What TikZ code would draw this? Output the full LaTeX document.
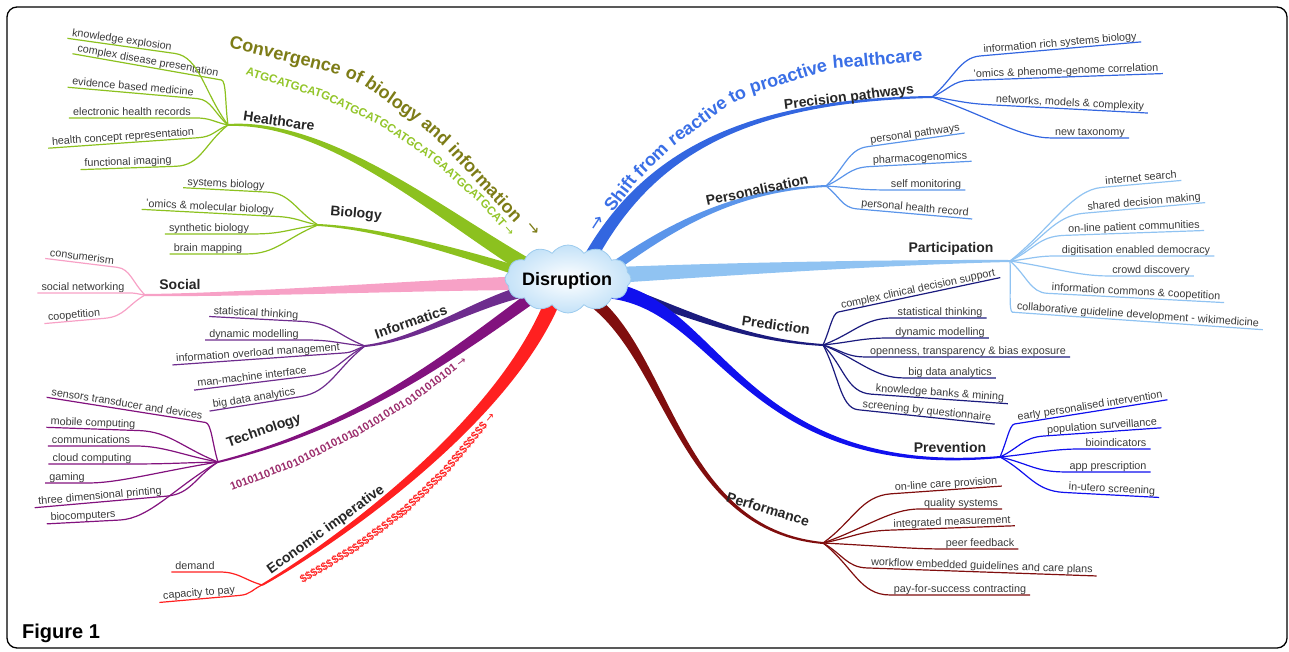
\documentclass[tikz,border=0pt]{standalone}
\usepackage{fontspec}
\setmainfont{Liberation Sans}
\newfontfamily\arrowfont{DejaVu Sans}
\usetikzlibrary{calc,shapes.symbols}

\definecolor{healthgreen}{HTML}{8CC11F}
\definecolor{atgcgreen}{HTML}{93C52A}
\definecolor{convolive}{HTML}{7D7C17}
\definecolor{socialpink}{HTML}{F7A1C6}
\definecolor{infopurple}{HTML}{6E2C8E}
\definecolor{techpurple}{HTML}{82127E}
\definecolor{binarymaroon}{HTML}{9B2C6B}
\definecolor{econred}{HTML}{FF2020}
\definecolor{precblue}{HTML}{3366E0}
\definecolor{shiftblue}{HTML}{3A6FE6}
\definecolor{persblue}{HTML}{5B95EA}
\definecolor{partblue}{HTML}{90C3F2}
\definecolor{prednavy}{HTML}{1B1B7E}
\definecolor{prevblue}{HTML}{1010EE}
\definecolor{perfred}{HTML}{800E0E}
\definecolor{cloudfill}{HTML}{C4E2F8}
\definecolor{cloudline}{HTML}{9CCBEE}
\definecolor{leafgrey}{HTML}{3A3A3A}

% tapered main branch: colour, start, control 1, control 2, hub, half width
\newcommand\limb[6]{\fill[#1] ($(#2)!#6!90:(#3)$) .. controls ($(#3)!#6*.75!-90:(#2)$) and ($(#4)!#6*.3!90:(#5)$) .. ($(#5)!1pt!-90:(#4)$)
  -- ($(#5)!1pt!90:(#4)$) .. controls ($(#4)!#6*.3!-90:(#5)$) and ($(#3)!#6*.75!90:(#2)$) .. ($(#2)!#6!-90:(#3)$) -- cycle;}
% leaf lines: colour, hub, leaf node, pull
\newcommand\twigL[4]{\draw[twig,#1] (#2) .. controls ($(#2)!.45!(#3.south east)$) and ($(#3.south east)!-#4!(#3.south west)$) .. (#3.south east) -- (#3.south west);}
\newcommand\twigR[4]{\draw[twig,#1] (#2) .. controls ($(#2)!.45!(#3.south west)$) and ($(#3.south west)!-#4!(#3.south east)$) .. (#3.south west) -- (#3.south east);}

\begin{document}
\begin{tikzpicture}[x=1pt, y=-1pt,
  leaf/.style={font=\fontsize{10.8}{12}\selectfont, text=leafgrey, inner xsep=4pt, inner ysep=1pt, text height=8pt, text depth=1.5pt},
  lbl/.style={font=\bfseries\fontsize{14}{16}\selectfont, text=black!85},
  twig/.style={line width=1.2pt},
  conv/.style={font=\bfseries\fontsize{18}{20}\selectfont, text=convolive, inner sep=0pt, anchor=base},
  proact/.style={font=\bfseries\fontsize{18}{20}\selectfont, text=shiftblue, inner sep=0pt, anchor=base},
  atgc/.style={font=\bfseries\fontsize{11.6}{13}\selectfont, text=atgcgreen, inner sep=0pt, anchor=base},
  bits/.style={font=\bfseries\fontsize{11}{13}\selectfont, text=binarymaroon, inner sep=0pt, anchor=base},
  dollars/.style={font=\bfseries\fontsize{11}{13}\selectfont, text=econred, inner sep=0pt, anchor=base}]
\useasboundingbox (0,0) rectangle (1289,651);
\draw[line width=1.3pt, rounded corners=10pt] (7,7) rectangle (1287,648);

\coordinate (hc0) at (530,268);  \coordinate (hc) at (228,125);
\coordinate (bi0) at (530,275);  \coordinate (bi) at (318,225);
\coordinate (so0) at (530,283);  \coordinate (so) at (145,295);
\coordinate (in0) at (530,290);  \coordinate (in) at (365,346);
\coordinate (te0) at (528,300);  \coordinate (te) at (218,462);
\coordinate (ec0) at (553,300);  \coordinate (ec) at (262,585);
\coordinate (pp0) at (590,258);  \coordinate (pp) at (932,97);
\coordinate (pe0) at (612,268);  \coordinate (pe) at (826,186);
\coordinate (pa0) at (615,275);  \coordinate (pa) at (1010,261);
\coordinate (pr0) at (615,288);  \coordinate (pr) at (823,345);
\coordinate (pv0) at (605,290);  \coordinate (pv) at (1000,457);
\coordinate (pf0) at (592,300);  \coordinate (pf) at (823,543);

\limb{healthgreen}{hc0}{440,215}{330,120}{hc}{8pt}
\limb{healthgreen}{bi0}{470,255}{380,228}{bi}{5pt}
\limb{socialpink}{so0}{420,285}{250,295}{so}{7pt}
\limb{infopurple}{in0}{480,300}{420,340}{in}{6pt}
\limb{techpurple}{te0}{444,361}{354,428}{te}{6pt}
\limb{econred}{ec0}{500,430}{320,552}{ec}{7.5pt}
\limb{precblue}{pp0}{650,150}{750,100}{pp}{6.5pt}
\limb{persblue}{pe0}{680,220}{740,190}{pe}{5pt}
\limb{partblue}{pa0}{750,268}{900,262}{pa}{8pt}
\limb{prednavy}{pr0}{680,310}{740,340}{pr}{5pt}
\limb{prevblue}{pv0}{720,300}{740,480}{pv}{8pt}
\limb{perfred}{pf0}{670,360}{680,530}{pf}{6pt}

\node[cloud, cloud puffs=12, cloud puff arc=110, cloud ignores aspect, minimum width=126pt, minimum height=68pt,
      draw=cloudline, line width=.8pt, inner color=white, outer color=cloudfill] (cloud) at (568,279) {};
\node[font=\bfseries\fontsize{18}{20}\selectfont] (dis) at (567,281) {Disruption};

\node[conv, rotate=-14] (cv1) at (284,61)  {Convergence};
\node[conv, rotate=-25] (cv2) at (352,80)  {of};
\node[conv, rotate=-35] (cv3) at (390,104) {biology};
\node[conv, rotate=-42] (cv4) at (432,136) {and};
\node[conv, rotate=-47] (cv5) at (481,187) {information};
\node[conv, rotate=-50, anchor=center, font=\arrowfont\fontsize{16}{18}\selectfont] (cv6) at (533,229) {→};

\node[atgc, rotate=-17] (dna1) at (283,86.3)    {ATGCATGCAT};
\node[atgc, rotate=-25] (dna2) at (349.2,111.1) {GCATGCAT};
\node[atgc, rotate=-34] (dna3) at (405,142.7)   {GCATGCAT};
\node[atgc, rotate=-42] (dna4) at (455.6,182.2) {GAATGCAT};
\node[atgc, rotate=-48] (dna5) at (494.7,220.5) {GCAT {\arrowfont\mdseries →}};

\node[proact, rotate=57] (sh1) at (602,226) {\arrowfont\mdseries →};
\node[proact, rotate=52] (sh2) at (625,197) {Shift};
\node[proact, rotate=45] (sh3) at (655,164) {from};
\node[proact, rotate=36] (sh4) at (701,126) {reactive};
\node[proact, rotate=28] (sh5) at (740,100) {to};
\node[proact, rotate=17] (sh6) at (790,82)  {proactive};
\node[proact, rotate=5]  (sh7) at (878,65)  {healthcare};

\node[bits, rotate=21] (bit1) at (263,479) {10101101010};
\node[bits, rotate=27] (bit2) at (325,452) {10101010101};
\node[bits, rotate=32] (bit3) at (381,422) {0101010101};
\node[bits, rotate=37] (bit4) at (438,384) {0101010101 {\arrowfont\mdseries →}};

\node[dollars, rotate=30] (usd1) at (329,568) {\$\$\$\$\$\$\$\$\$\$};
\node[dollars, rotate=37] (usd2) at (380,534) {\$\$\$\$\$\$\$\$\$\$};
\node[dollars, rotate=44] (usd3) at (426,495) {\$\$\$\$\$\$\$\$\$\$};
\node[dollars, rotate=50] (usd4) at (472,445) {\$\$\$\$\$\$\$\$\$\$ {\arrowfont\mdseries →}};

\node[lbl, rotate=-8]  (lhc) at (279,121) {Healthcare};
\node[lbl, rotate=-5]  (lbi) at (356,214) {Biology};
\node[lbl]             (lso) at (180,284) {Social};
\node[lbl, rotate=19]  (lin) at (411,322) {Informatics};
\node[lbl, rotate=19]  (lte) at (264,431) {Technology};
\node[lbl, rotate=36]  (lec) at (326,530) {Economic imperative};
\node[lbl, rotate=7]   (lpp) at (849,98)  {Precision pathways};
\node[lbl, rotate=12]  (lpe) at (757,190) {Personalisation};
\node[lbl]             (lpa) at (951,249) {Participation};
\node[lbl, rotate=-8]  (lpr) at (776,325) {Prediction};
\node[lbl]             (lpv) at (950,447) {Prevention};
\node[lbl, rotate=-17] (lpf) at (768,509) {Performance};

\node[leaf, rotate=-8]  (h1) at (122,40)  {knowledge explosion};
\node[leaf, rotate=-10] (h2) at (148,61)  {complex disease presentation};
\node[leaf, rotate=-5]  (h3) at (133,87)  {evidence based medicine};
\node[leaf]             (h4) at (132,112) {electronic health records};
\node[leaf, rotate=4]   (h5) at (123,137) {health concept representation};
\node[leaf, rotate=2]   (h6) at (128,162) {functional imaging};
\twigL{healthgreen}{hc}{h1}{25pt}
\twigL{healthgreen}{hc}{h2}{5pt}
\twigL{healthgreen}{hc}{h3}{14pt}
\twigL{healthgreen}{hc}{h4}{16pt}
\twigL{healthgreen}{hc}{h5}{14pt}
\twigL{healthgreen}{hc}{h6}{25pt}

\node[leaf, rotate=-3]  (b1) at (226,184) {systems biology};
\node[leaf, rotate=-3]  (b2) at (210,207) {'omics \& molecular biology};
\node[leaf]             (b3) at (209,228) {synthetic biology};
\node[leaf]             (b4) at (208,248) {brain mapping};
\twigL{healthgreen}{bi}{b1}{22pt}
\twigL{healthgreen}{bi}{b2}{18pt}
\twigL{healthgreen}{bi}{b3}{30pt}
\twigL{healthgreen}{bi}{b4}{30pt}

\node[leaf, rotate=-7]  (s1) at (82,257)  {consumerism};
\node[leaf]             (s2) at (83,287)  {social networking};
\node[leaf, rotate=5]   (s3) at (74,315)  {coopetition};
\twigL{socialpink}{so}{s1}{13pt}
\twigL{socialpink}{so}{s2}{8pt}
\twigL{socialpink}{so}{s3}{20pt}

\node[leaf, rotate=-3]  (i1) at (256,313) {statistical thinking};
\node[leaf]             (i2) at (254,334) {dynamic modelling};
\node[leaf, rotate=4]   (i3) at (258,353) {information overload management};
\node[leaf, rotate=7]   (i4) at (252,377) {man-machine interface};
\node[leaf, rotate=9]   (i5) at (254,398) {big data analytics};
\twigL{infopurple}{in}{i1}{30pt}
\twigL{infopurple}{in}{i2}{30pt}
\twigL{infopurple}{in}{i3}{9pt}
\twigL{infopurple}{in}{i4}{25pt}
\twigL{infopurple}{in}{i5}{30pt}

\node[leaf, rotate=-9]  (t1) at (127,404) {sensors transducer and devices};
\node[leaf, rotate=-2]  (t2) at (93,423)  {mobile computing};
\node[leaf]             (t3) at (91,440)  {communications};
\node[leaf]             (t4) at (92,458)  {cloud computing};
\node[leaf]             (t5) at (67,477)  {gaming};
\node[leaf, rotate=5]   (t6) at (100,496) {three dimensional printing};
\node[leaf, rotate=3]   (t7) at (83,516)  {biocomputers};
\twigL{techpurple}{te}{t1}{6pt}
\twigL{techpurple}{te}{t2}{30pt}
\twigL{techpurple}{te}{t3}{30pt}
\twigL{techpurple}{te}{t4}{30pt}
\twigL{techpurple}{te}{t5}{30pt}
\twigL{techpurple}{te}{t6}{25pt}
\twigL{techpurple}{te}{t7}{30pt}

\node[leaf]             (e1) at (195,566) {demand};
\node[leaf, rotate=5]   (e2) at (199,593) {capacity to pay};
\twigL{econred}{ec}{e1}{20pt}
\twigL{econred}{ec}{e2}{11pt}

\node[leaf, rotate=5]   (p1) at (1060,43)  {information rich systems biology};
\node[leaf, rotate=2]   (p2) at (1066,71)  {'omics \& phenome-genome correlation};
\node[leaf, rotate=-3]  (p3) at (1070,103) {networks, models \& complexity};
\node[leaf]             (p4) at (1090,132) {new taxonomy};
\twigR{precblue}{pp}{p1}{20pt}
\twigR{precblue}{pp}{p2}{17pt}
\twigR{precblue}{pp}{p3}{28pt}
\twigR{precblue}{pp}{p4}{30pt}

\node[leaf, rotate=8]   (q1) at (915,134) {personal pathways};
\node[leaf, rotate=3]   (q2) at (920,158) {pharmacogenomics};
\node[leaf]             (q3) at (926,184) {self monitoring};
\node[leaf, rotate=-5]  (q4) at (915,208) {personal health record};
\twigR{persblue}{pe}{q1}{19pt}
\twigR{persblue}{pe}{q2}{20pt}
\twigR{persblue}{pe}{q3}{30pt}
\twigR{persblue}{pe}{q4}{15pt}

\node[leaf, rotate=5]   (a1) at (1141,178) {internet search};
\node[leaf, rotate=5]   (a2) at (1144,202) {shared decision making};
\node[leaf, rotate=2]   (a3) at (1134,227) {on-line patient communities};
\node[leaf]             (a4) at (1136,250) {digitisation enabled democracy};
\node[leaf]             (a5) at (1151,270) {crowd discovery};
\node[leaf, rotate=-3]  (a6) at (1136,292) {information commons \& coopetition};
\node[leaf, rotate=-4]  (a7) at (1138,315) {collaborative guideline development - wikimedicine};
\twigR{partblue}{pa}{a1}{30pt}
\twigR{partblue}{pa}{a2}{30pt}
\twigR{partblue}{pa}{a3}{26pt}
\twigR{partblue}{pa}{a4}{22pt}
\twigR{partblue}{pa}{a5}{30pt}
\twigR{partblue}{pa}{a6}{17pt}
\twigR{partblue}{pa}{a7}{4pt}

\node[leaf, rotate=12]  (r1) at (918,289) {complex clinical decision support};
\node[leaf]             (r2) at (940,312) {statistical thinking};
\node[leaf]             (r3) at (940,332) {dynamic modelling};
\node[leaf]             (r4) at (968,351) {openness, transparency \& bias exposure};
\node[leaf]             (r5) at (950,372) {big data analytics};
\node[leaf, rotate=-4]  (r6) at (940,393) {knowledge banks \& mining};
\node[leaf, rotate=-6]  (r7) at (927,411) {screening by questionnaire};
\twigR{prednavy}{pr}{r1}{6pt}
\twigR{prednavy}{pr}{r2}{30pt}
\twigR{prednavy}{pr}{r3}{30pt}
\twigR{prednavy}{pr}{r4}{20pt}
\twigR{prednavy}{pr}{r5}{30pt}
\twigR{prednavy}{pr}{r6}{25pt}
\twigR{prednavy}{pr}{r7}{18pt}

\node[leaf, rotate=9]   (v1) at (1090,406) {early personalised intervention};
\node[leaf, rotate=4]   (v2) at (1102,426) {population surveillance};
\node[leaf]             (v3) at (1116,443) {bioindicators};
\node[leaf]             (v4) at (1108,466) {app prescription};
\node[leaf, rotate=-3]  (v5) at (1112,489) {in-utero screening};
\twigR{prevblue}{pv}{v1}{5pt}
\twigR{prevblue}{pv}{v2}{20pt}
\twigR{prevblue}{pv}{v3}{30pt}
\twigR{prevblue}{pv}{v4}{30pt}
\twigR{prevblue}{pv}{v5}{30pt}

\node[leaf, rotate=4]   (f1) at (946,484) {on-line care provision};
\node[leaf]             (f2) at (961,503) {quality systems};
\node[leaf, rotate=2]   (f3) at (952,522) {integrated measurement};
\node[leaf]             (f4) at (980,543) {peer feedback};
\node[leaf, rotate=-2]  (f5) at (982,566) {workflow embedded guidelines and care plans};
\node[leaf]             (f6) at (960,589) {pay-for-success contracting};
\twigR{perfred}{pf}{f1}{30pt}
\twigR{perfred}{pf}{f2}{30pt}
\twigR{perfred}{pf}{f3}{30pt}
\twigR{perfred}{pf}{f4}{30pt}
\twigR{perfred}{pf}{f5}{20pt}
\twigR{perfred}{pf}{f6}{30pt}

\node[font=\bfseries\fontsize{20}{22}\selectfont, anchor=base west, inner sep=0pt] (fig) at (22,638) {Figure 1};
\end{tikzpicture}
\end{document}
